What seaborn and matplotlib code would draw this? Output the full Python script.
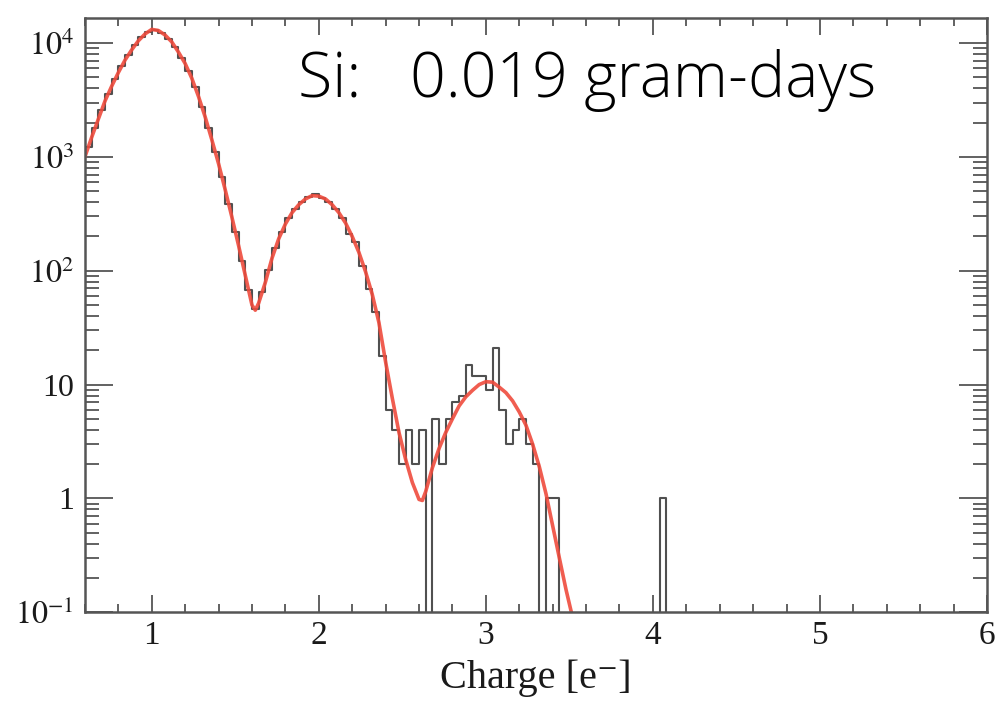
import numpy as np
import pandas as pd
import matplotlib
matplotlib.use("Agg")
import matplotlib.pyplot as plt
import seaborn as sns
from matplotlib.ticker import FixedLocator, FixedFormatter, LogLocator, MultipleLocator, NullFormatter

# ---------------- data ----------------
bin_start = 0.60
bin_width = 0.04
# histogram counts per bin (0.60 ... 4.08)
counts = [
    1220, 1780, 2570, 3590, 4790, 6240, 7850, 9550, 11220, 12590,
    13030, 12300, 10960, 9230, 7410, 5690, 4070, 2750, 1780, 1110,
    668, 389, 221, 123, 68, 46, 65, 101, 157, 221,
    288, 351, 403, 442, 470, 437, 403, 351, 292, 209,
    178, 110, 69, 43, 18, 6, 4, 2, 4, 2,
    4, 0, 5, 2, 5, 7, 8, 15, 12, 12,
    9, 21, 6, 3, 4, 5, 3, 2, 0, 1,
    1, 0, 0, 0, 0, 0, 0, 0, 0, 0,
    0, 0, 0, 0, 0, 0, 1,
]
# fitted curve (red)
fit_x = [0.60, 0.64, 0.68, 0.72, 0.76, 0.80, 0.84, 0.88, 0.92, 0.96,
         1.00, 1.04, 1.08, 1.12, 1.16, 1.20, 1.24, 1.28, 1.32, 1.36,
         1.40, 1.44, 1.48, 1.52, 1.56, 1.60, 1.62, 1.64, 1.68, 1.72,
         1.76, 1.80, 1.84, 1.88, 1.92, 1.96, 2.00, 2.04, 2.08, 2.12,
         2.16, 2.20, 2.24, 2.28, 2.32, 2.36, 2.40, 2.44, 2.48, 2.52,
         2.56, 2.60, 2.62, 2.64, 2.68, 2.72, 2.76, 2.80, 2.84, 2.88,
         2.92, 2.96, 3.00, 3.04, 3.08, 3.12, 3.16, 3.20, 3.24, 3.28,
         3.32, 3.36, 3.40, 3.44, 3.48, 3.52]
fit_y = [1000, 1480, 2140, 3090, 4170, 5500, 7080, 8710, 10470, 12020,
         13180, 12880, 11750, 10230, 8320, 6610, 4900, 3390, 2240, 1410,
         871, 513, 295, 166, 91, 50, 45, 52, 79, 129,
         191, 257, 324, 380, 427, 457, 452, 427, 380, 324,
         263, 200, 145, 98, 62, 35, 15.8, 7.6, 3.8, 2.2,
         1.38, 0.98, 0.96, 1.15, 1.86, 2.75, 3.8, 5.0, 6.5, 7.8,
         8.9, 10.0, 10.6, 10.5, 9.5, 8.5, 7.2, 5.75, 4.4, 3.0,
         1.9, 1.1, 0.575, 0.30, 0.158, 0.089]

y_ticks = [0.1, 1, 10, 100, 1000, 10000]
y_tick_labels = ["$10^{-1}$", "1", "10", "$10^{2}$", "$10^{3}$", "$10^{4}$"]
x_ticks = [1, 2, 3, 4, 5, 6]
x_tick_labels = ["1", "2", "3", "4", "5", "6"]
x_label = "Charge [e\u207b]"
annotation = "Si:   0.019 gram-days"

# ---------------- figure ----------------
sns.set_style("ticks")
plt.rcParams["font.family"] = ["Liberation Serif", "DejaVu Serif"]
plt.rcParams["mathtext.fontset"] = "stix"

fig = plt.figure(figsize=(9.99, 7.05), dpi=100)
ax = fig.add_axes([0.085, 0.1315, 0.903, 0.843])

edges = bin_start + bin_width * np.arange(len(counts) + 1)
hist_df = pd.DataFrame({"x": edges, "y": list(counts) + [0]})
sns.lineplot(data=hist_df, x="x", y="y", ax=ax, drawstyle="steps-post",
             color="#505050", linewidth=1.5, estimator=None, sort=False)

fit_df = pd.DataFrame({"x": fit_x, "y": fit_y})
sns.lineplot(data=fit_df, x="x", y="y", ax=ax, color="#ef4b3d",
             linewidth=2.6, alpha=0.9, estimator=None, sort=False)

ax.set_yscale("log")
ax.set_xlim(0.6, 6.0)
ax.set_ylim(0.1, 1.66e4)

ax.yaxis.set_major_locator(FixedLocator(y_ticks))
ax.yaxis.set_major_formatter(FixedFormatter(y_tick_labels))
ax.yaxis.set_minor_locator(LogLocator(base=10, subs=np.arange(2, 10)))
ax.yaxis.set_minor_formatter(NullFormatter())
ax.xaxis.set_major_locator(FixedLocator(x_ticks))
ax.xaxis.set_major_formatter(FixedFormatter(x_tick_labels))
ax.xaxis.set_minor_locator(MultipleLocator(0.2))

ax.tick_params(axis="both", which="both", direction="in", top=True, right=True,
               colors="#555555", labelcolor="#1a1a1a", width=1.3)
ax.tick_params(axis="y", which="major", length=20, labelsize=23, pad=8)
ax.tick_params(axis="y", which="minor", length=10)
ax.tick_params(axis="x", which="major", length=12, labelsize=24, pad=6)
ax.tick_params(axis="x", which="minor", length=6)

for sp in ax.spines.values():
    sp.set_color("#555555")
    sp.set_linewidth(1.8)

ax.set_xlabel(x_label, fontsize=29, color="#1a1a1a", labelpad=6)
ax.set_ylabel("")

fig.text(0.298, 0.862, annotation, fontsize=45, family=["Open Sans", "DejaVu Sans"],
         fontweight="light", color="black", va="baseline", ha="left")

fig.savefig("out.png", dpi=100, facecolor="white")
